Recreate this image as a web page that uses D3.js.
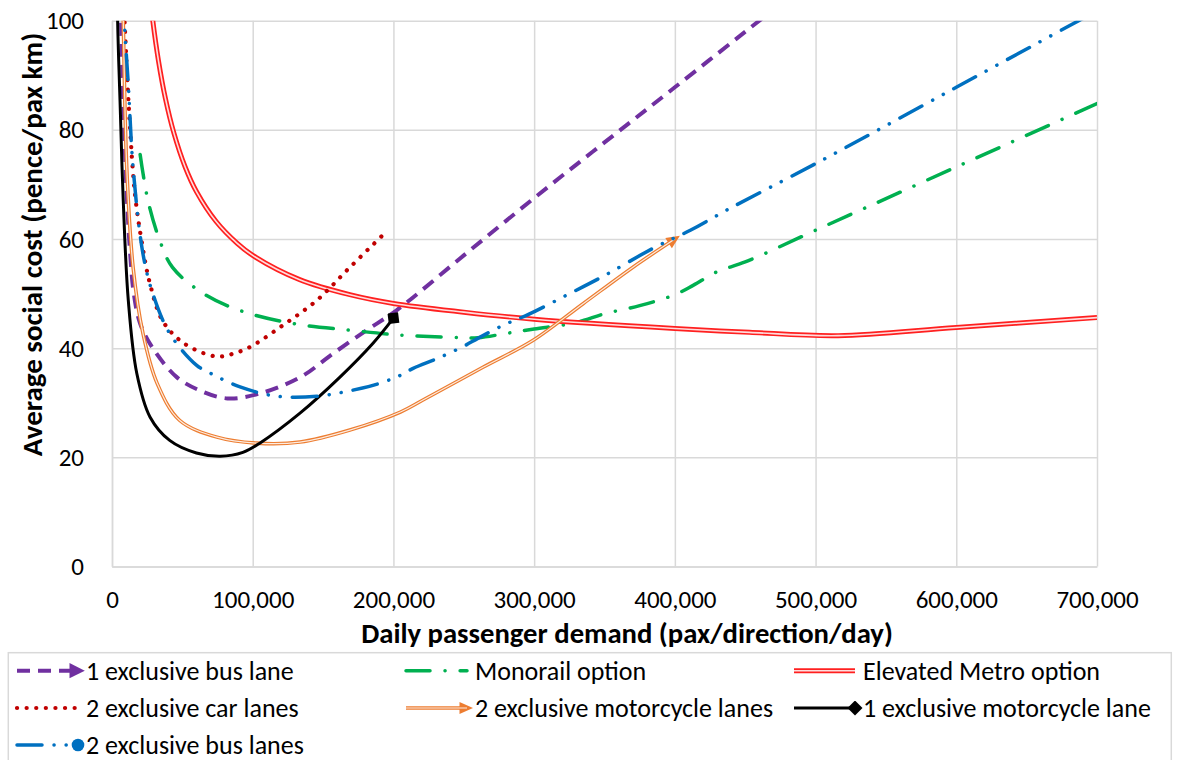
<!DOCTYPE html>
<html>
<head>
<meta charset="utf-8">
<script src="https://cdn.jsdelivr.net/npm/d3@7"></script>
<style>
  html, body { margin: 0; padding: 0; background: #fff; }
  svg { display: block; font-family: Carlito, Calibri, Lato, "Open Sans", sans-serif; }
</style>
</head>
<body>
<svg id="chart" width="1179" height="760"></svg>
<script>
// ---------------- DATA ----------------
const xTicks = [0, 100000, 200000, 300000, 400000, 500000, 600000, 700000];
const yTicks = [0, 20, 40, 60, 80, 100];

const busLane1X = [5000, 8000, 10500, 13000, 15500, 20000, 29000, 46000, 62000, 82000, 105000, 134000, 157000, 181000, 202000, 250000, 300000, 350000, 400000, 460000, 480000];
const busLane1Y = [115, 85, 68, 57, 50, 44.5, 40, 34.7, 32.3, 30.8, 31.7, 34.7, 39, 43.3, 46.9, 57, 67.5, 77.7, 87.8, 100, 104];

const monorailX = [20000, 25600, 34000, 43000, 65000, 91000, 129000, 169000, 205000, 240000, 260000, 280000, 300000, 330000, 350000, 375000, 400000, 413000, 430000, 450000, 500000, 600000, 700000];
const monorailY = [75.5, 67, 59.7, 54.8, 50, 46.9, 44.5, 43.3, 42.4, 42, 41.9, 42.7, 43.5, 44.7, 46.3, 47.8, 49.8, 51.5, 54, 55.8, 61.6, 73.2, 84.8];

const metroX = [26000, 29000, 33000, 38000, 44000, 52000, 60000, 74000, 89000, 100000, 133000, 169000, 200000, 250000, 300000, 400000, 453000, 516000, 600000, 700000];
const metroY = [107, 100, 92.7, 85.7, 79.4, 73.2, 68.7, 63.2, 59.2, 57, 52.6, 49.8, 48.2, 46.6, 45.3, 43.6, 42.9, 42.3, 43.8, 45.6];

const carLanesX = [7000, 9000, 12800, 16300, 21000, 27000, 36000, 50500, 69600, 78000, 85000, 98000, 121500, 145700, 169000, 196000];
const carLanesY = [112, 99.5, 80.4, 68.3, 59.7, 51.8, 45, 41, 38.7, 38.5, 38.9, 40.2, 44.2, 48.8, 54.8, 61.6];

const moto2X = [6500, 8000, 10500, 15000, 22000, 32000, 48000, 74600, 103000, 133600, 169000, 205000, 221000, 263600, 299000, 335000, 370000, 400000];
const moto2Y = [120, 100, 73, 54.8, 42.7, 33.6, 26.8, 23.7, 22.6, 22.8, 25, 28.3, 30.5, 36.5, 41.4, 48.2, 54.8, 60];

const moto1X = [3000, 4000, 5700, 8000, 11600, 17600, 27000, 41000, 60000, 77000, 93000, 105000, 133600, 162000, 185500, 200000];
const moto1Y = [125, 100, 85.4, 67, 48.7, 35.4, 27.4, 23.1, 20.8, 20.2, 20.9, 22.6, 28.1, 34.7, 40.9, 45.5];

const busLanes2X = [8000, 9000, 11700, 15000, 22000, 29000, 41000, 60000, 70000, 91000, 117000, 145600, 178000, 193000, 204700, 214000, 233000, 251000, 260000, 278000, 296000, 323000, 350000, 384500, 411000, 439000, 500000, 600000, 687000, 700000];
const busLanes2Y = [105, 98.7, 87.8, 73.1, 57.3, 50, 42.7, 36.9, 35.4, 32.9, 31.2, 31.2, 32.7, 33.8, 35, 36.3, 38.3, 40.5, 41.8, 44.2, 46.2, 49.7, 53.3, 58.3, 61.6, 65.6, 73.8, 87.8, 100, 101.8];

const seriesNames = [
  "1 exclusive bus lane", "Monorail option", "Elevated Metro option",
  "2 exclusive car lanes", "2 exclusive motorcycle lanes", "1 exclusive motorcycle lane",
  "2 exclusive bus lanes"
];

// ---------------- LAYOUT ----------------
const svg = d3.select("#chart");
const L = 112, R = 1097, T = 20.7, B = 566.5;
const x = d3.scaleLinear().domain([0, 700000]).range([L, R]);
const y = d3.scaleLinear().domain([0, 100]).range([B, T]);
const gridColor = "#d9d9d9";
const FONT = "Carlito, Calibri, Lato, sans-serif";

// axes with gridlines
const xAxis = svg.append("g").attr("transform", `translate(0,${B})`)
  .call(d3.axisBottom(x).tickValues(xTicks).tickSize(-(B - T)).tickSizeOuter(0)
        .tickPadding(24).tickFormat(d3.format(",")));
const yAxis = svg.append("g").attr("transform", `translate(${L},0)`)
  .call(d3.axisLeft(y).tickValues(yTicks).tickSize(-(R - L)).tickSizeOuter(0)
        .tickPadding(28).tickFormat(d3.format("d")));
[xAxis, yAxis].forEach(g => {
  g.selectAll("line").attr("stroke", gridColor).attr("stroke-width", 1.5);
  g.select(".domain").attr("stroke", gridColor).attr("stroke-width", 1.5);
  g.selectAll("text").attr("fill", "#000").style("font-size", "25px").style("font-family", FONT);
});

// titles
svg.append("text").attr("x", 627).attr("y", 643).attr("text-anchor", "middle")
  .style("font-size", "28.7px").style("font-weight", "bold")
  .text("Daily passenger demand (pax/direction/day)");
svg.append("text").attr("transform", `translate(32,244.5) rotate(-90)`)
  .attr("text-anchor", "middle").attr("dy", "0.35em")
  .style("font-size", "29px").style("font-weight", "bold")
  .text("Average social cost (pence/pax km)");

// defs: clip + markers
const defs = svg.append("defs");
defs.append("clipPath").attr("id", "plotClip").append("rect")
  .attr("x", L).attr("y", T).attr("width", R - L).attr("height", B - T);

function mk(id, path, color, w, h, refX) {
  defs.append("marker").attr("id", id)
    .attr("viewBox", "-10 -10 20 20").attr("markerUnits", "userSpaceOnUse")
    .attr("markerWidth", w).attr("markerHeight", h).attr("refX", refX).attr("refY", 0)
    .attr("orient", "auto")
    .append("path").attr("d", path).attr("fill", color);
}
mk("arrowOrange", "M-8,-8 L10,0 L-8,8 Z", "#ED7D31", 15, 15, 2);
mk("arrowPurple", "M-8,-9 L10,0 L-8,9 Z", "#7030A0", 17, 17, 2);
mk("diamondBlack", "M-10,0 L0,-10 L10,0 L0,10 Z", "#000", 15, 15, 0);
mk("circleBlue", "M-9,0 A9,9 0 1,0 9,0 A9,9 0 1,0 -9,0 Z", "#0070C0", 14, 14, 0);

const styles = [
  { X: busLane1X, Y: busLane1Y, color: "#7030A0", width: 4, dash: "13,8", cap: "butt", end: "arrowPurple" },
  { X: monorailX, Y: monorailY, color: "#00B050", width: 3.5, dash: "24,15,0.1,15", cap: "round" },
  { X: metroX, Y: metroY, color: "#FF2020", width: 5, double: 1.6 },
  { X: carLanesX, Y: carLanesY, color: "#C00000", width: 4.2, dash: "0.1,9.5", cap: "round" },
  { X: moto2X, Y: moto2Y, color: "#ED7D31", width: 3.6, double: 1.2, end: "arrowOrange" },
  { X: moto1X, Y: moto1Y, color: "#000000", width: 3, end: "diamondBlack" },
  { X: busLanes2X, Y: busLanes2Y, color: "#0070C0", width: 3.5, dash: "25,12,0.1,12,0.1,12", cap: "round", end: "circleBlue" }
];

const line = d3.line().x(d => x(d[0])).y(d => y(d[1])).curve(d3.curveCatmullRom.alpha(0.5));
const plot = svg.append("g").attr("clip-path", "url(#plotClip)");

styles.forEach((s) => {
  const pts = s.X.map((v, j) => [v, s.Y[j]]);
  const p = plot.append("path").datum(pts).attr("d", line)
    .attr("fill", "none").attr("stroke", s.color).attr("stroke-width", s.width)
    .attr("stroke-linejoin", "round");
  if (s.dash) p.attr("stroke-dasharray", s.dash).attr("stroke-linecap", s.cap);
  if (s.double) {
    plot.append("path").datum(pts).attr("d", line)
      .attr("fill", "none").attr("stroke", "#fff").attr("stroke-width", s.double)
      .attr("stroke-opacity", 0.85);
  }
  if (s.end) p.attr("marker-end", `url(#${s.end})`);
});

// ---------------- LEGEND ----------------
svg.append("rect").attr("x", 8.3).attr("y", 652.7).attr("width", 1163).attr("height", 130)
  .attr("fill", "none").attr("stroke", gridColor).attr("stroke-width", 1.5);

const colX = [17, 406, 794];
const textX = [86, 475, 863];
const rowY = [670.7, 708, 745];
styles.forEach((s, k) => {
  const col = k % 3, cy = rowY[Math.floor(k / 3)];
  const x1 = colX[col], x2 = textX[col] - 8;
  const lp = svg.append("line").attr("x1", x1).attr("x2", x2).attr("y1", cy).attr("y2", cy)
    .attr("stroke", s.color).attr("stroke-width", s.width);
  if (s.dash) lp.attr("stroke-dasharray", s.dash).attr("stroke-linecap", s.cap);
  if (s.double) {
    svg.append("line").attr("x1", x1).attr("x2", x2).attr("y1", cy).attr("y2", cy)
      .attr("stroke", "#fff").attr("stroke-width", s.double).attr("stroke-opacity", 0.85);
  }
  if (s.end) lp.attr("marker-end", `url(#${s.end})`);
  svg.append("text").attr("x", textX[col]).attr("y", cy).attr("dy", "0.36em")
    .style("font-size", "26px").text(seriesNames[k]);
});
</script>
</body>
</html>
